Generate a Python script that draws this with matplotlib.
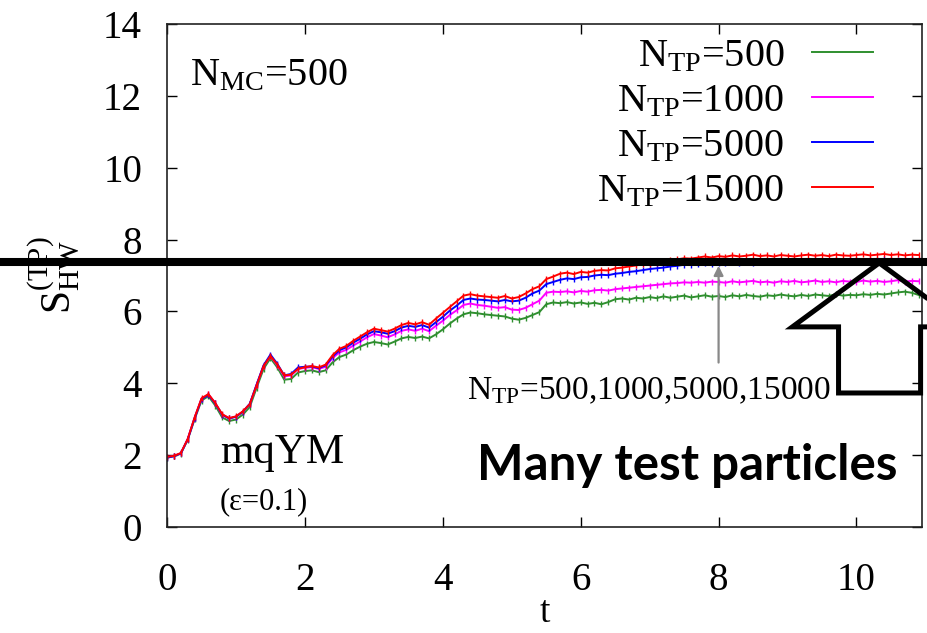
import numpy as np
import matplotlib
matplotlib.use('Agg')
import matplotlib.pyplot as plt
from matplotlib.lines import Line2D
from matplotlib.patches import Polygon
import matplotlib.transforms as mtransforms

plt.rcParams['font.family'] = ['Liberation Serif', 'DejaVu Serif']
plt.rcParams['mathtext.fontset'] = 'custom'
plt.rcParams['mathtext.rm'] = 'Liberation Serif'
plt.rcParams['mathtext.it'] = 'Liberation Serif:italic'

# time grid of the curves (step 0.1)
t = np.round(np.arange(110) * 0.1, 1)

ntp500 = [1.93, 1.97, 2.04, 2.43, 3.00, 3.52, 3.64, 3.38, 3.05, 2.95,
          2.99, 3.13, 3.34, 3.88, 4.40, 4.70, 4.44, 4.10, 4.12, 4.30,
          4.34, 4.36, 4.31, 4.36, 4.58, 4.73, 4.80, 4.92, 5.02, 5.10,
          5.15, 5.12, 5.08, 5.16, 5.25, 5.29, 5.26, 5.30, 5.25, 5.36,
          5.50, 5.66, 5.80, 5.92, 5.97, 5.95, 5.92, 5.90, 5.88, 5.86,
          5.80, 5.77, 5.82, 5.90, 5.98, 6.20, 6.25, 6.23, 6.26, 6.22,
          6.25, 6.21, 6.24, 6.20, 6.26, 6.34, 6.36, 6.33, 6.38, 6.36,
          6.40, 6.37, 6.42, 6.38, 6.41, 6.44, 6.39, 6.42, 6.45, 6.41,
          6.43, 6.40, 6.45, 6.42, 6.46, 6.43, 6.41, 6.45, 6.43, 6.47,
          6.44, 6.42, 6.46, 6.43, 6.47, 6.45, 6.43, 6.48, 6.44, 6.46,
          6.45, 6.48, 6.46, 6.49, 6.47, 6.50, 6.53, 6.55, 6.52, 6.46]

ntp1000 = [1.94, 1.98, 2.05, 2.45, 3.04, 3.57, 3.69, 3.44, 3.12, 3.02,
           3.07, 3.21, 3.42, 3.96, 4.48, 4.76, 4.50, 4.19, 4.22, 4.40,
           4.43, 4.45, 4.40, 4.46, 4.70, 4.86, 4.93, 5.05, 5.16, 5.28,
           5.37, 5.33, 5.28, 5.36, 5.46, 5.50, 5.46, 5.52, 5.45, 5.60,
           5.74, 5.90, 6.03, 6.18, 6.22, 6.18, 6.16, 6.13, 6.10, 6.12,
           6.05, 6.04, 6.10, 6.20, 6.30, 6.52, 6.55, 6.54, 6.56, 6.53,
           6.57, 6.55, 6.59, 6.60, 6.58, 6.62, 6.64, 6.66, 6.68, 6.70,
           6.72, 6.74, 6.76, 6.78, 6.79, 6.81, 6.80, 6.82, 6.80, 6.83,
           6.82, 6.80, 6.84, 6.81, 6.83, 6.85, 6.81, 6.83, 6.80, 6.84,
           6.82, 6.85, 6.81, 6.83, 6.86, 6.82, 6.84, 6.81, 6.85, 6.83,
           6.82, 6.86, 6.83, 6.85, 6.82, 6.84, 6.87, 6.83, 6.85, 6.84]

ntp5000 = [1.93, 1.97, 2.05, 2.44, 3.03, 3.56, 3.68, 3.44, 3.13, 3.02,
           3.07, 3.21, 3.43, 3.97, 4.50, 4.80, 4.54, 4.22, 4.26, 4.44,
           4.46, 4.47, 4.42, 4.50, 4.74, 4.92, 5.00, 5.13, 5.24, 5.36,
           5.45, 5.42, 5.38, 5.45, 5.55, 5.60, 5.57, 5.62, 5.55, 5.70,
           5.85, 6.02, 6.16, 6.32, 6.36, 6.33, 6.32, 6.30, 6.28, 6.32,
           6.28, 6.30, 6.38, 6.50, 6.58, 6.76, 6.82, 6.88, 6.92, 6.90,
           6.95, 6.96, 7.00, 7.02, 7.01, 7.05, 7.07, 7.10, 7.12, 7.15,
           7.18, 7.20, 7.22, 7.25, 7.27, 7.30, 7.30, 7.32, 7.34, 7.33,
           7.35, 7.34, 7.37, 7.35, 7.38, 7.36, 7.39, 7.37, 7.40, 7.38,
           7.40, 7.38, 7.41, 7.39, 7.42, 7.40, 7.41, 7.43, 7.40, 7.42,
           7.43, 7.41, 7.44, 7.42, 7.45, 7.43, 7.44, 7.42, 7.45, 7.44]

ntp15000 = [1.95, 1.98, 2.06, 2.45, 3.05, 3.58, 3.70, 3.45, 3.14, 3.03,
            3.08, 3.22, 3.42, 3.95, 4.48, 4.76, 4.52, 4.22, 4.24, 4.40,
            4.45, 4.48, 4.44, 4.52, 4.78, 4.96, 5.04, 5.18, 5.30, 5.42,
            5.52, 5.48, 5.44, 5.52, 5.62, 5.68, 5.64, 5.70, 5.63, 5.80,
            5.96, 6.12, 6.28, 6.44, 6.48, 6.44, 6.42, 6.40, 6.38, 6.43,
            6.36, 6.40, 6.50, 6.62, 6.70, 6.90, 6.97, 7.05, 7.08, 7.04,
            7.10, 7.08, 7.13, 7.15, 7.14, 7.20, 7.22, 7.25, 7.28, 7.31,
            7.33, 7.36, 7.39, 7.42, 7.45, 7.48, 7.47, 7.50, 7.53, 7.50,
            7.54, 7.52, 7.56, 7.53, 7.55, 7.58, 7.54, 7.56, 7.53, 7.57,
            7.55, 7.53, 7.56, 7.58, 7.55, 7.57, 7.54, 7.58, 7.56, 7.55,
            7.57, 7.59, 7.56, 7.58, 7.60, 7.57, 7.59, 7.56, 7.58, 7.57]

series = [ntp500, ntp1000, ntp5000, ntp15000]
labels = [r'$\mathrm{N_{TP}}$=500', r'$\mathrm{N_{TP}}$=1000',
          r'$\mathrm{N_{TP}}$=5000', r'$\mathrm{N_{TP}}$=15000']
colors = ['#2f8f2f', '#ff00ff', '#0000ff', '#ff0000']

hline_y = 7.38

fig = plt.figure(figsize=(9.28, 6.33), dpi=100)
ax = fig.add_axes([0.18, 0.1675, 0.8135, 0.7945])

for y, lab, c in zip(series, labels, colors):
    ax.plot(t, y, color=c, lw=1.4, marker='|', ms=4, mew=1.0, label=lab)

ax.set_xlim(0, 10.95)
ax.set_ylim(0, 14)
ax.set_xticks([0, 2, 4, 6, 8, 10])
ax.set_yticks(range(0, 15, 2))
ax.tick_params(direction='in', length=7, width=1.0, top=True, right=True,
               labelsize=28)
ax.tick_params(axis='x', pad=25)
ax.tick_params(axis='y', pad=18)
for s in ax.spines.values():
    s.set_linewidth(1.2)
    s.set_color('#222222')

ax.set_xlabel('t', fontsize=27)
ax.xaxis.set_label_coords(0.5, -0.136)
ax.set_ylabel(r'$\mathrm{S_{HW}^{(TP)}}$', fontsize=30)
ax.yaxis.set_label_coords(-0.113, 0.5)

leg = ax.legend(loc='upper right', bbox_to_anchor=(0.935, 0.972),
                frameon=False, markerfirst=False, fontsize=29,
                handlelength=1.5, handletextpad=0.7, labelspacing=0.19,
                borderpad=0, borderaxespad=0)
for h in leg.legend_handles:
    h.set_marker('')

ax.text(0.03, 0.879, r'$\mathrm{N_{MC}}$=500', transform=ax.transAxes,
        fontsize=29, va='baseline')
ax.text(0.07, 0.127, 'mqYM', transform=ax.transAxes, fontsize=31,
        va='baseline')
ax.text(0.07, 0.036, '(\u03b5=0.1)', transform=ax.transAxes, fontsize=22,
        va='baseline')

# gnuplot arrow to the saturated values
ax.annotate('', xy=(8, 7.35), xytext=(8, 4.5),
            arrowprops=dict(arrowstyle='-|>', color='#888888', lw=1.6,
                            mutation_scale=14))
ax.text(6.99, 3.55, r'$\mathrm{N_{TP}}$=500,1000,5000,15000', fontsize=24,
        ha='center', va='baseline')

# overlay: thick reference line across the whole figure
trans = mtransforms.blended_transform_factory(fig.transFigure, ax.transData)
fig.add_artist(Line2D([0, 1], [hline_y, hline_y], transform=trans,
                      color='black', lw=5.8, clip_on=False))

# overlay: hollow block arrow pointing up
arrow_pts = [(10.33, 7.35), (9.07, 5.57), (9.74, 5.57), (9.74, 3.73),
             (10.93, 3.73), (10.93, 5.57), (11.59, 5.57)]
ax.add_patch(Polygon(arrow_pts, closed=True, fill=False, edgecolor='black',
                     lw=3.6, clip_on=False, zorder=5, joinstyle='miter'))

ax.text(4.49, 1.31, 'Many test particles', fontsize=35.5, fontweight='bold',
        family=['Lato', 'DejaVu Sans'], ha='left', va='baseline')

fig.savefig('out.png', dpi=100)
